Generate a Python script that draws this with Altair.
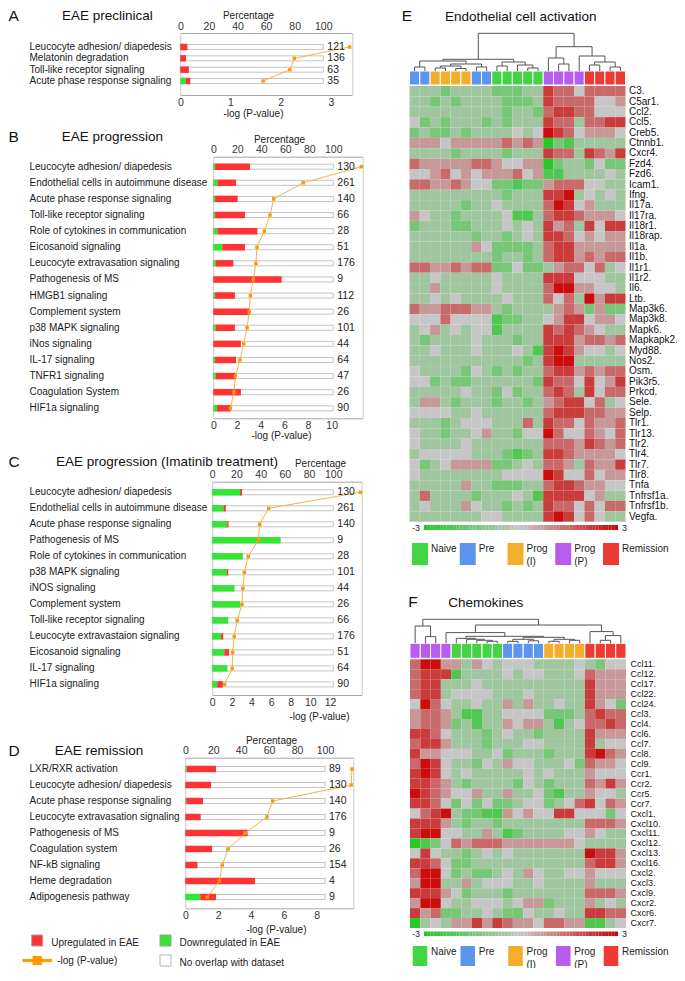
import altair as alt
import pandas as pd
import numpy as np

W, H = 669, 960
M = 8  # page margin: reference pixel = chart pixel + M
FONT = "Liberation Sans"

RED = "#ff3333"
GREEN = "#33e633"
ORANGE_L = "#f8b04a"
ORANGE_P = "#ff9900"
AXC = "#a8a8a8"

# ---------------- Data: pathway panels ----------------
A_labels = ["Leucocyte adhesion/ diapedesis", "Melatonin degradation",
            "Toll-like receptor signaling", "Acute phase response signaling"]
A_down = [0, 0, 0, 4]
A_up = [5, 4, 6, 3]
A_logp = [3.37, 2.27, 2.18, 1.65]
A_count = [121, 136, 63, 35]

B_labels = ["Leucocyte adhesion/ diapedesis", "Endothelial cells in autoimmune disease",
            "Acute phase response signaling", "Toll-like receptor signaling",
            "Role of cytokines in communication", "Eicosanoid signaling",
            "Leucocyte extravasation signaling", "Pathogenesis of MS", "HMGB1 signaling",
            "Complement system", "p38 MAPK signaling", "iNos signaling", "IL-17 signaling",
            "TNFR1 signaling", "Coagulation System", "HIF1a signaling"]
B_down = [1.5, 3.5, 1.5, 1.5, 3.5, 7.5, 2, 0, 1.5, 0, 2, 0, 1.5, 2, 0, 3]
B_up = [29.1, 15.4, 18.8, 24.9, 33.2, 18.9, 14.7, 57, 16.5, 30.6, 16, 23, 17.4, 16.9, 23, 11.4]
B_logp = [12.5, 7.6, 5.1, 4.79, 4.31, 3.69, 3.6, 3.38, 3.13, 3.04, 2.85, 2.57, 2.25, 1.86, 1.75, 1.44]
B_count = [130, 261, 140, 66, 28, 51, 176, 9, 112, 26, 101, 44, 64, 47, 26, 90]

C_labels = ["Leucocyte adhesion/ diapedesis", "Endothelial cells in autoimmune disease",
            "Acute phase response signaling", "Pathogenesis of MS",
            "Role of cytokines in communication", "p38 MAPK signaling", "iNOS signaling",
            "Complement system", "Toll-like receptor signaling",
            "Leucocyte extravastaion signaling", "Eicosanoid signaling", "IL-17 signaling",
            "HIF1a signaling"]
C_down = [23, 9.3, 12.4, 56.5, 25.3, 12.1, 18.4, 23, 13.2, 7.4, 10, 12.6, 4.1]
C_up = [1.6, 1.9, 1.1, 0, 0, 1.1, 0, 0, 0, 1.7, 3.9, 0, 4.7]
C_logp = [15.1, 5.75, 4.84, 4.7, 3.67, 3.27, 3.13, 3.03, 2.55, 2.24, 2.08, 2.04, 1.26]
C_count = [130, 261, 140, 9, 28, 101, 44, 26, 66, 176, 51, 64, 90]

D_labels = ["LXR/RXR activation", "Leucocyte adhesion/ diapedesis",
            "Acute phase response signaling", "Leucocyte extravasation signaling",
            "Pathogenesis of MS", "Coagulation system", "NF-kB signaling",
            "Heme degradation", "Adipogenesis pathway"]
D_down = [1, 0, 0.7, 0, 0, 0, 0, 0, 10.7]
D_up = [21, 18.4, 12, 11, 44.6, 19.2, 8.7, 49.9, 11.3]
D_logp = [10.15, 10.1, 5.32, 4.97, 3.65, 2.6, 2.25, 2.07, 1.34]
D_count = [89, 130, 140, 176, 9, 26, 154, 4, 9]

legend_items = ["Upregulated in EAE", "Downregulated in EAE", "-log (P-value)", "No overlap with dataset"]
legend_col = [0, 1, 0, 1]
legend_row = [0, 0, 1, 1]

# ---------------- Data: heatmaps ----------------
GROUPS = ["Naive", "Pre", "Prog (I)", "Prog (P)", "Remission"]
GROUP_TEXT = ["Naive", "Pre", "Prog|(I)", "Prog|(P)", "Remission"]
GROUP_COLORS = ["#42d442", "#5b95ee", "#f4ae2c", "#b85cf0", "#ee3a32"]

E_groups = ["Pre"] * 2 + ["Prog (I)"] * 4 + ["Pre"] * 2 + ["Naive"] * 5 + ["Prog (P)"] * 4 + ["Remission"] * 4
E_genes = ["C3.", "C5ar1.", "Ccl2.", "Ccl5.", "Creb5.", "Ctnnb1.", "Cxcr4.", "Fzd4.", "Fzd6.",
           "Icam1.", "Ifng.", "Il17a.", "Il17ra.", "Il18r1.", "Il18rap.", "Il1a.", "Il1b.",
           "Il1r1.", "Il1r2.", "Il6.", "Ltb.", "Map3k6.", "Map3k8.", "Mapk6.", "Mapkapk2.",
           "Myd88.", "Nos2.", "Osm.", "Pik3r5.", "Prkcd.", "Sele.", "Selp.", "Tlr1.", "Tlr13.",
           "Tlr2.", "Tlr4.", "Tlr7.", "Tlr8.", "Tnfa", "Tnfrsf1a.", "Tnfrsf1b.", "Vegfa."]
# digit code per cell: 1 = strongest green ... 5 = neutral ... 9 = strongest red
E_rows = ["4443444433344 87757777", "4434344443334 87777556", "4444444443443 78877555",
          "5343444343444 87747788", "3433434444545 98756665", "6665666667676 13244444",
          "4444344443444 87748768", "7666667765566 13443533", "5567565666756 22444454",
          "7766765533233 67775544", "4444444443444 88945454", "4444434454444 79856444",
          "6544344445224 78876665", "3444334445454 86748588", "4444443443454 88756566",
          "4444446533334 78866666", "4444444434434 78867677", "7766767733533 46775745",
          "4454444454444 88855544", "4464444454444 79966554", "4454544445444 75749688",
          "7667776643444 46763633", "5557555523344 56885665", "4564545524444 87876544",
          "4344445444344 88867767", "4454445444542 89865545", "4444444444434 89944444",
          "5444435434344 78867677", "5534334444443 87758568", "4444454435344 78748577",
          "4664344434434 67885745", "5555445444444 78887766", "4443455544474 87757667",
          "5443445644355 97557657", "5444454444444 77768767", "4555554443234 88766665",
          "5345666633454 77647668", "5444444445555 98557566", "4444464433344 78876655",
          "4744443444542 88885644", "4544465443434 87757577", "4444444554444 89857544"]
E_tree = (37.7,
          (11.7,
           (10.0, (4.0, 0, 1), (7.0, (5.0, (3.0, 2, 3), (2.5, 4, 5)), (4.0, 6, 7))),
           (9.0, (5.0, 8, 9), (6.0, 10, (3.0, 11, 12)))),
          (24.3,
           (13.0, 13, (7.0, 14, 15)),
           (15.0, 16, (9.0, (6.0, 17, 18), (4.0, 19, 20)))))

F_groups = ["Prog (P)"] * 4 + ["Naive"] * 5 + ["Pre"] * 4 + ["Prog (I)"] * 4 + ["Remission"] * 4
F_genes = ["Ccl11.", "Ccl12.", "Ccl17.", "Ccl22.", "Ccl24.", "Ccl3.", "Ccl4.", "Ccl6.", "Ccl7.",
           "Ccl8.", "Ccl9.", "Ccr1.", "Ccr2.", "Ccr5.", "Ccr7.", "Cxcl1.", "Cxcl10.", "Cxcl11.",
           "Cxcl12.", "Cxcl13.", "Cxcl16.", "Cxcl2.", "Cxcl3.", "Cxcl9.", "Cxcr2.", "Cxcr6.", "Cxcr7."]
F_rows = ["7996 64654 5554 4445 4355", "7888 24444 5455 4445 7666", "7884 44544 4444 4444 8666",
          "7884 55554 4454 4444 8666", "5975 44544 6464 4544 8653", "6776 42244 5555 3334 7877",
          "6776 34244 6566 4245 7787", "8875 44434 5443 4444 8666", "7886 44434 4455 4444 8455",
          "8665 55445 3444 3444 8976", "7985 44354 6554 4453 7665", "8985 45444 4454 5444 6555",
          "8876 43444 4354 3444 7686", "9876 55644 6445 3244 6554", "8875 35353 3455 3457 8576",
          "5789 43322 6565 5885 5535", "8886 43443 4444 4444 7776", "8995 54464 2344 4455 6544",
          "1235 76777 6666 6665 4444", "5854 43454 5444 4444 9886", "8875 33444 4444 4444 7886",
          "7995 34334 5465 4455 6555", "6994 46455 5445 4444 6444", "8886 53444 3444 4444 7776",
          "6995 44555 4566 3444 6454", "8673 34454 3354 4544 8877", "1454 66868 7665 7766 2245"]
F_tree = (24.0,
          (17.3, 0, (6.7, 1, 2)),
          (18.3,
           (10.7, 3, (7.0, (5.0, 4, (4.0, 5, (3.0, 6, (2.0, 7, 8)))),
                      (6.0, (4.0, (2.0, 9, 10), (2.5, 11, 12)),
                       (4.0, (2.0, 13, 14), (3.0, 15, 16))))),
           (11.7, 17, (7.7, (3.0, 18, 19), 20))))

# ---------------- Layout (reference pixel coordinates) ----------------
GEO = {
    "A": dict(x0=180.3, x100=323.3, xr=352.3, pvt=(3, 331.0), ytop=33.0, ybot=95.0, po=0.735,
              ticks=[0, 1, 2, 3], top_title=(248, 18.0), bot_title=(253, 116.5)),
    "B": dict(x0=213.3, x100=333.3, xr=362.7, pvt=(10, 331.7), ytop=156.7, ybot=418.3, po=0.121,
              ticks=[0, 2, 4, 6, 8, 10], top_title=(279, 142.5), bot_title=(281, 438.5)),
    "C": dict(x0=212.2, x100=333.3, xr=361.7, pvt=(12, 330.0), ytop=481.7, ybot=695.0, po=0.162,
              ticks=[0, 2, 4, 6, 8, 10, 12], top_title=(320, 466.5), bot_title=(319, 719.5)),
    "D": dict(x0=185.3, x100=325.0, xr=353.3, pvt=(8, 316.7), ytop=757.7, ybot=908.3, po=0.206,
              ticks=[0, 2, 4, 6, 8], top_title=(271, 743.5), bot_title=(276, 932.5)),
}
HGEO = {
    "E": dict(hx0=409.5, hx1=625.5, hy0=86.0, hy1=521.7, by0=71.0, by1=85.0, dtop_y=33.3,
              cy0=525.0, cy1=530.0, ly0=543.0, ly1=565.0, fs=10, lpad=3),
    "F": dict(hx0=410.0, hx1=626.0, hy0=659.3, hy1=928.0, by0=643.3, by1=658.3, dtop_y=619.3,
              cy0=931.5, cy1=936.0, ly0=946.0, ly1=966.0, fs=9, lpad=4),
}
PLEG = dict(x=(37.2, 165.5), y=(940.5, 960.5))

one = pd.DataFrame({"a": [0]})


def annot(txt, x, y, size, **kw):
    return alt.Chart(one).mark_text(text=txt, fontSize=size, align="left", baseline="alphabetic",
                                    color="#111", **kw).encode(x=alt.value(x - M), y=alt.value(y - M))


def bar_panel(labels, down, up, logp, count, g):
    df = pd.DataFrame(dict(label=labels, down=down, up=up, logp=logp, count=count))
    df["tot"] = df["down"] + df["up"]
    df["full"] = 100
    df["idx"] = np.arange(len(df))
    x0, xr = g["x0"] - M, g["xr"] - M
    pct_max = (g["xr"] - g["x0"]) / (g["x100"] - g["x0"]) * 100
    tv, tx = g["pvt"]
    pv_max = (g["xr"] - g["x0"]) / (tx - g["x0"]) * tv
    ysc = alt.Scale(type="band", domain=labels, range=[g["ytop"] - M, g["ybot"] - M],
                    paddingInner=0, paddingOuter=g["po"])
    pct = alt.Scale(domain=[0, pct_max], range=[x0, xr], nice=False, zero=True)
    pvs = alt.Scale(domain=[0, pv_max], range=[x0, xr], nice=False, zero=True)
    common = dict(labelFontSize=10.5, labelColor="#333", ticks=False, tickSize=0, labelFlush=False,
                  domainColor=AXC, grid=False, titleFontSize=10, titleFontWeight="normal",
                  titleColor="#222", titleAngle=0, titleAlign="center", titleBaseline="alphabetic")
    top_axis = alt.Axis(orient="top", offset=-(g["ytop"] - M), values=[0, 20, 40, 60, 80, 100],
                        title="Percentage", titleX=g["top_title"][0] - M,
                        titleY=g["top_title"][1] - g["ytop"], labelPadding=2, **common)
    bot_axis = alt.Axis(orient="bottom", offset=(g["ybot"] - M) - H, values=g["ticks"],
                        title="-log (P-value)", titleX=g["bot_title"][0] - M,
                        titleY=g["bot_title"][1] - g["ybot"], labelPadding=2, **common)
    left_axis = alt.Axis(orient="left", offset=-x0, title=None, labelAlign="left",
                         labelPadding=g["x0"] - 29, labelFontSize=10, labelColor="#1a1a1a",
                         labelLimit=320, labelOverlap=False, ticks=False, tickSize=0,
                         domainColor="#c8c8c8", grid=False)
    right_axis = alt.Axis(orient="right", offset=xr - W, title=None, labels=False, ticks=False,
                          tickSize=0, domainColor="#c8c8c8", grid=False)
    base = alt.Chart(df)

    def Y(axis=None):
        return alt.Y("label:N", scale=ysc, axis=axis)

    gray = base.mark_bar(size=5, fill="white", stroke="#c4c4c4", strokeWidth=1).encode(
        x=alt.X("full:Q", scale=pct, axis=top_axis), y=Y(left_axis))
    green = base.mark_bar(size=6.5, color=GREEN).encode(
        x=alt.X("down:Q", scale=pct, axis=None), y=Y())
    red = base.mark_bar(size=6.5, color=RED).encode(
        x=alt.X("down:Q", scale=pct, axis=None), x2="tot:Q", y=Y())
    line = base.mark_line(color=ORANGE_L, strokeWidth=1).encode(
        x=alt.X("logp:Q", scale=pvs, axis=bot_axis), y=Y(), order=alt.Order("idx:Q"))
    pts = base.mark_point(shape="square", filled=True, size=12, color=ORANGE_P, opacity=1).encode(
        x=alt.X("logp:Q", scale=pvs, axis=None), y=Y(right_axis))
    txt = base.mark_text(align="left", baseline="middle", dx=4, fontSize=10.5, color="#222").encode(
        x=alt.X("full:Q", scale=pct, axis=None), y=Y(), text="count:Q")
    return [gray, green, red, line, pts, txt]


def heat_scale():
    return alt.Scale(domain=[-3, 0, 3], range=["#1ec81e", "#c6c6c6", "#cc0000"], interpolate="rgb")


def group_scale():
    return alt.Scale(domain=GROUPS, range=GROUP_COLORS)


def tree_segments(tree):
    segs = []

    def walk(node):
        if isinstance(node, int):
            return node + 0.5, 0.0
        h, l, r = node
        xl, hl = walk(l)
        xr, hr = walk(r)
        segs.append((xl, xl, hl, h))
        segs.append((xr, xr, hr, h))
        segs.append((xl, xr, h, h))
        return (xl + xr) / 2, h

    walk(tree)
    return pd.DataFrame(segs, columns=["x1", "x2", "h1", "h2"])


def heat_panel(genes, rows, groups, tree, g):
    samples = [f"c{i:02d}" for i in range(len(groups))]
    recs = []
    for gene, s in zip(genes, rows):
        s = s.replace(" ", "")
        for smp, ch in zip(samples, s):
            recs.append((gene, smp, (int(ch) - 5) * 0.7))
    hdf = pd.DataFrame(recs, columns=["gene", "sample", "v"])

    def xsc():
        return alt.Scale(type="band", domain=samples, range=[g["hx0"] - M, g["hx1"] - M],
                         paddingInner=0, paddingOuter=0)

    ysc = alt.Scale(type="band", domain=genes, range=[g["hy0"] - M, g["hy1"] - M],
                    paddingInner=0, paddingOuter=0)
    gene_axis = alt.Axis(orient="right", offset=(g["hx1"] - M) - W, title=None, ticks=False,
                         tickSize=0, domain=False, labelPadding=g["lpad"], labelFontSize=g["fs"],
                         labelColor="#111", labelOverlap=False, labelLimit=200, grid=False)
    heat = alt.Chart(hdf).mark_rect(strokeWidth=0).encode(
        x=alt.X("sample:N", scale=xsc(), axis=None),
        y=alt.Y("gene:N", scale=ysc, axis=gene_axis),
        color=alt.Color("v:Q", scale=heat_scale(), legend=None))

    gdf = pd.DataFrame({"sample": samples, "group": groups, "r": "r"})
    band = alt.Chart(gdf).mark_rect(stroke="white", strokeWidth=1).encode(
        x=alt.X("sample:N", scale=xsc(), axis=None),
        y=alt.Y("r:N", scale=alt.Scale(type="band", domain=["r"], range=[g["by0"] - M, g["by1"] - M],
                                       paddingInner=0, paddingOuter=0), axis=None),
        color=alt.Color("group:N", scale=group_scale(), legend=None))

    ddf = tree_segments(tree)
    dxs = alt.Scale(domain=[0, len(groups)], range=[g["hx0"] - M, g["hx1"] - M], nice=False, zero=False)
    dys = alt.Scale(domain=[0, tree[0]], range=[g["by0"] - M, g["dtop_y"] - M], nice=False, zero=False)
    dendro = alt.Chart(ddf).mark_rule(color="#555", strokeWidth=1).encode(
        x=alt.X("x1:Q", scale=dxs, axis=None), x2="x2:Q",
        y=alt.Y("h1:Q", scale=dys, axis=None), y2="h2:Q")

    steps = np.linspace(-3, 3, 61)
    cdf = pd.DataFrame({"v0": steps[:-1], "v1": steps[1:], "r": "r"})
    cdf["mid"] = (cdf["v0"] + cdf["v1"]) / 2
    cbx = alt.Scale(domain=[-3, 3], range=[424 - M, 618 - M], nice=False, zero=False)
    cby = alt.Scale(type="band", domain=["r"], range=[g["cy0"] - M, g["cy1"] - M],
                    paddingInner=0, paddingOuter=0)
    cbar = alt.Chart(cdf).mark_rect(strokeWidth=0).encode(
        x=alt.X("v0:Q", scale=cbx, axis=None), x2="v1:Q",
        y=alt.Y("r:N", scale=cby, axis=None),
        color=alt.Color("mid:Q", scale=heat_scale(), legend=None))
    lo = alt.Chart(pd.DataFrame({"v": [-3], "t": ["-3"], "r": "r"})).mark_text(
        align="right", baseline="middle", dx=-4, fontSize=9, color="#222").encode(
        x=alt.X("v:Q", scale=cbx, axis=None), y=alt.Y("r:N", scale=cby, axis=None), text="t:N")
    hi = alt.Chart(pd.DataFrame({"v": [3], "t": ["3"], "r": "r"})).mark_text(
        align="left", baseline="middle", dx=4, fontSize=9, color="#222").encode(
        x=alt.X("v:Q", scale=cbx, axis=None), y=alt.Y("r:N", scale=cby, axis=None), text="t:N")

    ldf = pd.DataFrame({"group": GROUPS, "txt": GROUP_TEXT, "r": "r"})
    lx = alt.Scale(type="point", domain=GROUPS, range=[420 - M, 611 - M], padding=0)
    ly = alt.Scale(type="point", domain=["r"], range=[g["ly0"] - M, g["ly1"] - M], padding=0.5)
    half_h = (g["ly1"] - g["ly0"]) / 2
    boxes = alt.Chart(ldf).mark_point(shape="M-0.727,-1H0.727V1H-0.727Z", filled=True,
                                      size=(2 * half_h) ** 2, opacity=1, strokeWidth=0).encode(
        x=alt.X("group:N", scale=lx, axis=None), y=alt.Y("r:N", scale=ly, axis=None),
        color=alt.Color("group:N", scale=group_scale(), legend=None))
    ltxt = alt.Chart(ldf).mark_text(align="left", baseline="top", dx=11, dy=-half_h + 1, fontSize=10,
                                    lineBreak="|", lineHeight=12.5, color="#222").encode(
        x=alt.X("group:N", scale=lx, axis=None), y=alt.Y("r:N", scale=ly, axis=None), text="txt:N")
    return [heat, band, dendro, cbar, lo, hi, boxes, ltxt]


def path_legend():
    ldf = pd.DataFrame(dict(item=legend_items, col=legend_col, row=legend_row))
    lxs = alt.Scale(type="point", domain=[0, 1], range=[PLEG["x"][0] - M, PLEG["x"][1] - M], padding=0)
    lys = alt.Scale(type="point", domain=[0, 1], range=[PLEG["y"][0] - M, PLEG["y"][1] - M], padding=0)
    line_sym = "M-2.6,-0.2H2.6V0.2H-2.6Z M-0.75,-0.75H0.75V0.75H-0.75Z"
    X = alt.X("col:O", scale=lxs, axis=None)
    Yv = alt.Y("row:O", scale=lys, axis=None)
    sym = alt.Chart(ldf).mark_point(filled=True, size=121, opacity=1, strokeWidth=1).encode(
        x=X, y=Yv,
        shape=alt.Shape("item:N", scale=alt.Scale(domain=legend_items,
                                                  range=["square", "square", line_sym, "square"]), legend=None),
        fill=alt.Fill("item:N", scale=alt.Scale(domain=legend_items,
                                                range=[RED, GREEN, ORANGE_P, "white"]), legend=None),
        stroke=alt.Stroke("item:N", scale=alt.Scale(domain=legend_items,
                                                    range=["#a0a0a0", "#a0a0a0", ORANGE_P, "#b4b4b4"]), legend=None))
    t1 = alt.Chart(ldf).transform_filter(
        alt.FieldOneOfPredicate(field="item", oneOf=[legend_items[0], legend_items[1], legend_items[3]])
    ).mark_text(align="left", baseline="middle", dx=14, dy=2, fontSize=10, color="#222").encode(
        x=X, y=Yv, text="item:N")
    t2 = alt.Chart(ldf).transform_filter(
        alt.FieldEqualPredicate(field="item", equal=legend_items[2])
    ).mark_text(align="left", baseline="middle", dx=20, dy=0, fontSize=10, color="#222").encode(
        x=X, y=Yv, text="item:N")
    return [sym, t1, t2]


layers = []
layers += bar_panel(A_labels, A_down, A_up, A_logp, A_count, GEO["A"])
layers += bar_panel(B_labels, B_down, B_up, B_logp, B_count, GEO["B"])
layers += bar_panel(C_labels, C_down, C_up, C_logp, C_count, GEO["C"])
layers += bar_panel(D_labels, D_down, D_up, D_logp, D_count, GEO["D"])
layers += path_legend()
layers += heat_panel(E_genes, E_rows, E_groups, E_tree, HGEO["E"])
layers += heat_panel(F_genes, F_rows, F_groups, F_tree, HGEO["F"])

LET, TIT = 15.5, 13.5
LX = 8.5
layers += [
    annot("A", LX, 20.5, LET), annot("EAE preclinical", 62, 20, TIT),
    annot("B", LX, 141.7, LET), annot("EAE progression", 61.7, 141, TIT),
    annot("C", LX, 466.7, LET), annot("EAE progression (Imatinib treatment)", 56, 466, TIT),
    annot("D", LX, 756, LET), annot("EAE remission", 54.7, 755, TIT),
    annot("E", 401.7, 21, LET), annot("Endothelial cell activation", 445, 21, TIT),
    annot("F", 408.3, 606.7, LET), annot("Chemokines", 448.3, 607, TIT),
]

chart = alt.layer(*layers).resolve_scale(
    x="independent", y="independent", color="independent", shape="independent",
    fill="independent", stroke="independent"
).properties(
    width=W, height=H, padding=0, autosize=alt.AutoSizeParams(type="none")
).configure(font=FONT).configure_view(stroke=None).configure_axis(grid=False)

chart.save("out.html", embed_options={"renderer": "svg", "actions": False})
